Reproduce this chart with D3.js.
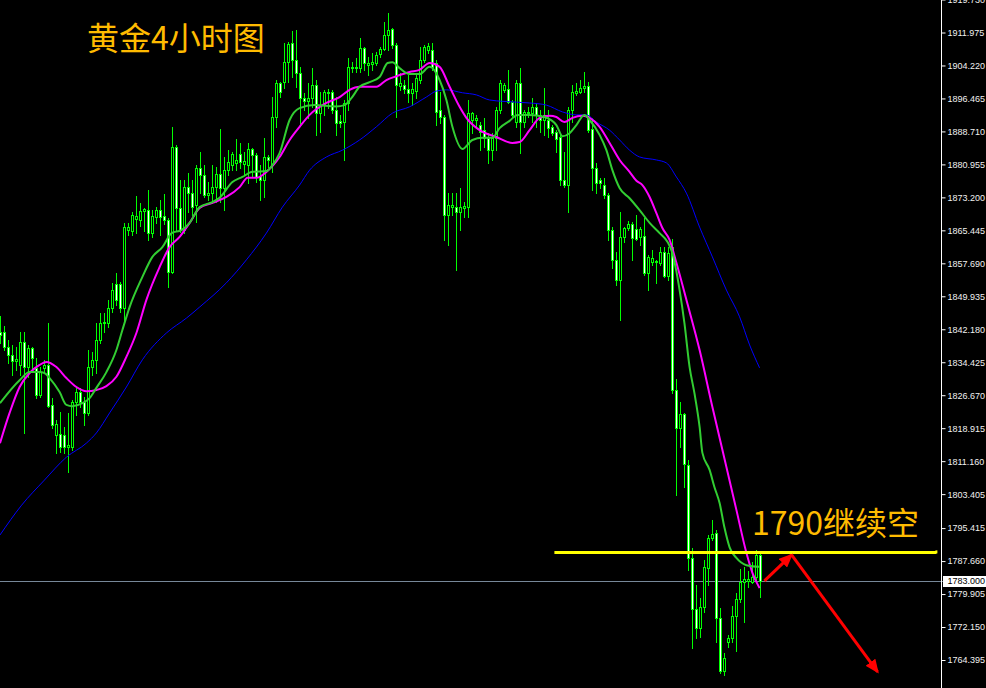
<!DOCTYPE html>
<html><head><meta charset="utf-8">
<script src="https://cdn.jsdelivr.net/npm/d3@7"></script>
<style>html,body{margin:0;padding:0;background:#000;overflow:hidden}</style>
</head><body>
<svg id="c" width="986" height="688"></svg>
<script>
// ---------- DATA ----------
const open=[
1841.5,1841.5,1838.0,1836.1,1834.7,1833.8,1839.2,1833.3,1837.8,1833.1,
1826.7,1833.1,1833.8,1824.4,1817.3,1817.5,1817.3,1814.5,1814.5,1825.1,
1827.4,1825.1,1822.5,1833.3,1835.0,1839.7,1843.7,1843.7,1847.2,1852.8,
1852.8,1847.2,1865.5,1865.3,1868.1,1867.9,1870.0,1870.2,1864.8,1868.6,
1870.2,1868.8,1867.9,1855.7,1885.1,1870.7,1865.5,1875.6,1874.2,1871.4,
1880.1,1878.5,1873.8,1874.2,1875.6,1878.7,1875.4,1879.6,1880.8,1881.3,
1883.4,1881.1,1880.8,1884.6,1883.2,1878.2,1877.3,1882.7,1880.8,1892.1,
1900.1,1900.3,1905.0,1909.5,1905.5,1902.5,1896.6,1895.9,1896.6,1899.6,
1893.0,1894.9,1897.8,1898.0,1893.8,1891.2,1890.9,1895.4,1903.6,1903.9,
1903.6,1908.3,1904.3,1904.6,1904.8,1906.9,1908.1,1911.4,1912.8,1909.0,
1899.4,1899.6,1898.7,1897.8,1898.2,1900.8,1905.5,1907.9,1907.9,1904.8,
1893.8,1892.1,1869.1,1870.9,1870.9,1869.8,1870.7,1870.9,1891.4,1891.4,
1890.2,1889.0,1887.2,1884.3,1887.2,1893.8,1898.5,1898.7,1895.6,1890.9,
1900.1,1890.9,1893.0,1893.0,1894.5,1892.6,1891.4,1891.4,1889.8,1888.6,
1887.4,1877.3,1876.1,1893.8,1897.8,1898.0,1898.9,1899.4,1889.3,1880.1,
1877.3,1876.1,1873.8,1865.5,1858.5,1853.8,1863.9,1866.0,1866.9,1865.8,
1863.9,1864.1,1855.4,1858.0,1858.0,1857.8,1860.4,1854.7,1861.5,1827.9,
1819.0,1822.3,1810.2,1788.4,1776.4,1771.9,1776.9,1786.0,1793.1,1794.3,
1774.3,1761.8,1768.6,1769.6,1774.7,1778.7,1782.7,1783.0,1782.7,1783.9,
1789.1];
const high=[
1845.3,1842.9,1839.7,1838.5,1838.0,1841.5,1841.5,1838.5,1838.0,1835.4,
1833.3,1835.0,1843.7,1826.0,1820.8,1822.7,1819.2,1822.5,1825.5,1828.4,
1828.4,1826.3,1837.3,1836.8,1843.7,1846.0,1846.0,1849.1,1853.1,1855.4,
1853.3,1867.2,1867.2,1869.8,1873.5,1871.9,1870.7,1874.9,1870.2,1870.9,
1872.6,1874.0,1868.4,1889.8,1885.5,1877.3,1877.3,1878.9,1877.3,1880.8,
1883.9,1880.8,1876.8,1880.8,1880.3,1889.3,1882.7,1884.3,1883.9,1886.9,
1886.0,1883.9,1886.0,1884.8,1883.6,1880.8,1887.2,1883.2,1896.8,1900.8,
1900.3,1909.5,1909.7,1912.3,1912.6,1903.9,1897.8,1900.1,1903.6,1900.8,
1898.0,1898.5,1898.7,1898.5,1896.8,1892.6,1896.1,1906.0,1905.0,1906.0,
1910.7,1908.6,1906.2,1907.2,1907.4,1908.6,1914.5,1916.6,1913.0,1909.5,
1902.5,1900.8,1902.0,1900.1,1902.5,1908.6,1909.0,1909.5,1909.5,1905.5,
1898.0,1892.6,1874.2,1874.2,1874.2,1875.4,1872.1,1896.1,1893.3,1892.6,
1890.9,1891.9,1888.3,1888.3,1894.5,1900.8,1900.1,1903.2,1896.1,1900.8,
1903.6,1893.8,1894.5,1896.6,1895.4,1893.8,1898.9,1893.8,1890.2,1889.0,
1887.9,1883.9,1894.5,1899.6,1900.1,1900.8,1902.7,1900.3,1891.9,1881.3,
1877.8,1877.8,1874.2,1866.2,1860.4,1869.8,1866.2,1867.6,1867.4,1869.1,
1866.2,1868.4,1859.6,1860.8,1858.5,1861.5,1861.5,1861.5,1863.4,1830.5,
1825.1,1822.5,1811.4,1790.7,1782.0,1779.0,1787.9,1793.8,1797.3,1795.0,
1776.6,1766.0,1770.3,1777.1,1780.2,1785.8,1786.3,1785.3,1787.4,1790.3,
1789.5];
const low=[
1839.0,1837.3,1834.2,1831.4,1832.6,1831.4,1817.8,1831.0,1832.6,1826.0,
1826.3,1831.9,1823.9,1819.0,1813.1,1813.3,1813.1,1808.6,1813.8,1822.0,
1823.9,1819.7,1822.0,1831.4,1831.9,1839.0,1841.5,1842.7,1846.2,1847.9,
1846.2,1843.9,1864.4,1864.4,1864.8,1866.5,1865.3,1863.2,1863.9,1867.2,
1864.4,1866.9,1852.1,1855.4,1865.5,1865.1,1864.8,1869.8,1869.1,1867.4,
1874.2,1873.3,1872.6,1871.9,1872.1,1872.1,1870.2,1878.5,1879.6,1879.6,
1880.1,1878.5,1876.6,1878.0,1876.8,1872.6,1873.3,1880.3,1879.2,1889.8,
1896.8,1898.9,1900.3,1901.5,1899.2,1890.7,1893.8,1891.9,1894.5,1887.9,
1888.6,1892.6,1894.2,1893.0,1887.9,1889.8,1882.0,1893.8,1902.7,1902.7,
1902.7,1903.2,1902.0,1903.2,1904.3,1906.2,1907.9,1907.9,1908.3,1892.1,
1898.5,1897.8,1895.6,1894.9,1896.6,1900.1,1905.0,1907.2,1903.2,1890.2,
1890.7,1863.2,1862.0,1869.1,1856.1,1865.5,1868.6,1868.6,1888.3,1889.8,
1884.3,1885.1,1881.3,1882.0,1884.3,1893.0,1898.0,1895.4,1892.1,1889.8,
1883.6,1889.8,1892.1,1890.9,1889.8,1888.6,1887.9,1887.4,1887.9,1883.9,
1876.1,1875.6,1869.8,1890.9,1897.3,1897.8,1898.0,1888.6,1874.9,1874.2,
1875.4,1873.1,1863.2,1856.6,1852.6,1844.4,1862.7,1865.5,1858.5,1863.2,
1862.0,1854.9,1851.4,1857.3,1853.1,1857.3,1854.5,1853.8,1827.2,1803.2,
1814.5,1805.1,1785.6,1767.2,1769.6,1769.8,1775.7,1782.0,1792.6,1768.6,
1761.3,1760.9,1767.5,1768.6,1766.5,1778.0,1773.3,1781.6,1782.5,1783.2,
1779.2];
const close=[
1840.8,1838.0,1836.1,1834.7,1835.2,1839.2,1833.3,1837.8,1835.4,1826.7,
1832.1,1833.8,1824.1,1819.7,1819.9,1814.5,1814.5,1815.0,1825.1,1827.4,
1825.1,1822.5,1833.3,1835.0,1839.7,1843.7,1843.9,1847.2,1851.4,1849.1,
1847.2,1866.2,1866.2,1869.1,1868.8,1870.0,1870.5,1864.8,1868.8,1870.2,
1868.6,1867.9,1855.7,1885.1,1870.7,1865.5,1875.6,1874.2,1870.9,1880.1,
1878.5,1873.8,1874.2,1875.6,1878.7,1875.4,1879.6,1881.5,1883.4,1882.0,
1881.5,1881.8,1884.6,1883.2,1878.0,1877.3,1882.7,1882.0,1892.1,1900.1,
1898.0,1905.0,1909.3,1905.5,1902.5,1896.6,1895.9,1896.6,1899.6,1893.0,
1894.9,1898.0,1898.0,1893.8,1890.7,1890.7,1895.4,1903.9,1903.9,1903.6,
1908.3,1904.8,1904.8,1905.0,1906.7,1908.1,1911.4,1912.6,1909.0,1899.6,
1900.1,1898.7,1897.8,1898.7,1901.3,1905.5,1908.6,1908.8,1903.9,1893.3,
1892.1,1869.1,1871.4,1871.4,1869.8,1870.9,1871.2,1893.0,1893.0,1891.9,
1888.6,1887.2,1884.3,1887.2,1893.8,1900.1,1899.6,1895.6,1892.6,1900.1,
1890.9,1893.3,1893.3,1894.5,1892.6,1891.4,1892.6,1889.5,1888.3,1886.9,
1877.3,1876.1,1893.8,1898.0,1898.2,1898.9,1899.4,1889.0,1880.1,1876.6,
1876.6,1873.8,1865.5,1858.5,1853.8,1863.9,1866.0,1866.9,1863.6,1863.4,
1865.8,1855.4,1859.2,1858.9,1858.2,1860.4,1854.7,1860.1,1827.9,1819.0,
1822.3,1810.5,1788.4,1776.4,1771.9,1776.9,1786.3,1793.1,1794.0,1774.3,
1761.8,1764.9,1769.6,1774.7,1778.7,1782.7,1783.4,1783.4,1783.9,1789.1,
1783.0];

// moving averages (bar index, price)
const greenIdx=[0,4.9,7.4,9.9,11.1,12.4,14.9,16.6,18.1,20.6,22.4,24.1,26.6,29.1,30.6,32.4,35.6,38.1,40.6,42.9,45.4,47.4,49.9,53.1,54.9,58.1,60.6,63.1,66.6,68.1,69.9,72.4,74.9,78.6,84.1,86.1,87.9,89.9,92.4,94.9,96.9,98.1,99.9,102.4,104.9,107.4,109.9,111.6,113.1,115.6,118.1,120.6,123.1,124.9,127.4,129.4,132.4,136.1,139.1,140.6,142.4,144.1,146.1,147.4,149.9,151.6,153.1,154.9,157.4,159.9,162.4,164.9,166.9,168.1,169.9,171.1,172.4,173.6,174.9,175.6,177.4,178.6,179.9,181.1,182.4,184.1,186.6,189.9];
const greenVal=[1824.8,1830.2,1832.1,1832.1,1831.9,1830.7,1827.4,1824.4,1824.1,1824.8,1826.0,1828.4,1832.1,1837.3,1842.0,1847.4,1854.5,1859.2,1861.5,1864.8,1865.5,1867.2,1870.9,1872.1,1873.1,1876.8,1878.0,1879.2,1879.4,1880.8,1883.6,1891.4,1894.2,1894.9,1894.6,1894.9,1896.6,1899.2,1900.3,1901.5,1904.8,1905.0,1903.6,1902.2,1902.2,1903.9,1900.8,1896.1,1889.8,1884.6,1886.7,1887.2,1887.2,1889.5,1891.2,1892.6,1892.6,1892.1,1890.2,1887.6,1888.3,1890.2,1892.6,1891.4,1887.9,1884.3,1879.6,1875.4,1873.0,1870.2,1867.2,1864.8,1862.7,1860.1,1851.4,1843.7,1833.3,1827.2,1819.2,1813.1,1809.1,1805.1,1801.3,1795.6,1790.9,1788.4,1786.7,1786.3];
const magIdx=[0,2.4,4.9,7.4,9.9,11.6,14.1,16.6,19.1,21.6,24.1,26.6,29.1,31.6,34.1,36.6,39.9,42.4,44.9,47.4,49.9,53.1,56.6,59.9,61.9,64.1,66.6,69.9,72.4,74.9,77.4,81.6,84.9,87.4,89.9,94.1,96.6,99.1,102.4,104.9,107.4,109.9,112.4,114.9,116.6,119.9,124.1,128.1,129.9,132.4,134.9,137.4,139.1,141.1,143.1,145.6,147.4,149.9,152.4,154.9,157.4,159.1,160.6,162.4,164.1,165.6,167.4,169.1,171.6,174.9,178.1,181.6,184.1,186.6,188.1,189.9];
const magVal=[1815.4,1822.5,1828.6,1831.9,1833.8,1834.5,1833.3,1830.7,1828.6,1827.6,1827.9,1828.8,1831.0,1835.7,1841.3,1849.1,1856.8,1861.5,1863.9,1867.2,1870.7,1871.9,1873.3,1875.6,1877.8,1877.8,1879.2,1882.7,1886.7,1889.8,1892.6,1895.4,1896.8,1898.5,1899.2,1899.2,1900.8,1901.7,1902.7,1903.2,1904.8,1903.9,1899.2,1894.5,1891.9,1889.0,1887.4,1886.0,1886.2,1889.0,1891.9,1892.4,1892.1,1890.9,1891.9,1892.4,1891.9,1889.8,1886.0,1882.0,1879.2,1877.1,1876.1,1873.3,1869.5,1866.0,1863.2,1857.8,1849.1,1837.3,1823.9,1809.8,1799.7,1789.6,1784.9,1781.3];
const blueIdx=[0,5.4,11.1,16.6,21.6,24.1,27.4,31.6,35.6,41.6,46.6,49.9,56.6,61.6,66.6,70.6,74.9,77.4,81.6,85.6,89.9,94.1,98.1,102.4,106.6,109.1,111.6,115.6,119.1,122.4,129.1,132.4,136.6,140.6,144.1,146.6,149.1,152.4,154.9,157.4,159.9,164.1,166.6,169.1,171.6,174.9,178.1,181.6,184.9,187.4,189.9];
const blueVal=[1793.8,1800.8,1806.7,1812.1,1815.4,1817.8,1822.5,1828.6,1835.0,1841.3,1844.8,1847.4,1853.1,1858.5,1864.8,1870.9,1876.1,1879.6,1882.7,1884.3,1886.7,1889.8,1893.0,1894.5,1896.8,1898.2,1898.5,1897.8,1897.3,1896.1,1895.6,1895.4,1894.9,1893.3,1892.6,1892.6,1890.9,1889.0,1886.7,1884.3,1882.7,1882.0,1881.3,1878.0,1874.2,1866.2,1859.2,1851.4,1845.1,1838.5,1833.1];

const priceTicks=[1919.730,1911.975,1904.220,1896.465,1888.710,1880.955,1873.200,1865.445,1857.690,1849.935,1842.180,1834.425,1826.670,1818.915,1811.160,1803.405,1795.415,1787.660,1779.905,1772.150,1764.395];
const lastPrice=1783.000;
const levelPrice=1789.7, levelFrom=138.6, levelTo=234.1;
const arrowIdx=[191.1,197.9,219.4];
const arrowPrice=[1783.0,1789.1,1761.6];
const titleText="黄金4小时图";
const noteText="1790继续空";

// ---------- DRAW ----------
const svg=d3.select("#c");
svg.append("rect").attr("width",986).attr("height",688).attr("fill","#000");
const x=d3.scaleLinear().domain([0,190]).range([0,760]);
const y=d3.scaleLinear().domain([1764.395,1911.975]).range([660,32.5]);

// bid line
svg.append("line").attr("x1",0).attr("x2",943)
  .attr("y1",Math.round(y(lastPrice))+0.5).attr("y2",Math.round(y(lastPrice))+0.5)
  .attr("stroke","#778899").attr("stroke-width",1);

// candles
const bars=open.map((o,i)=>({i,o,h:high[i],l:low[i],c:close[i]}));
const cg=svg.append("g").attr("shape-rendering","crispEdges");
bars.forEach(b=>{
  const cx=Math.round(x(b.i));
  const yh=Math.round(y(b.h)), yl=Math.round(y(b.l));
  cg.append("rect").attr("x",cx).attr("y",yh).attr("width",1).attr("height",Math.max(1,yl-yh+1)).attr("fill","#00ff00");
  const top=Math.round(y(Math.max(b.o,b.c))), bot=Math.round(y(Math.min(b.o,b.c)));
  const hh=Math.max(1,bot-top+1);
  cg.append("rect").attr("x",cx-1).attr("y",top).attr("width",3).attr("height",hh).attr("fill","#00ff00");
  if(hh>=3){
    cg.append("rect").attr("x",cx).attr("y",top+1).attr("width",1).attr("height",hh-2)
      .attr("fill",b.c>b.o?"#000":"#ffffff");
  }
});

// moving averages
function maLine(idx,val,color,w){
  const pts=idx.map((d,k)=>[x(d),y(val[k])]);
  svg.append("path").attr("d",d3.line().curve(d3.curveMonotoneX)(pts))
    .attr("fill","none").attr("stroke",color).attr("stroke-width",w);
}
maLine(blueIdx,blueVal,"#0000ff",1);
maLine(magIdx,magVal,"#ff00ff",2);
maLine(greenIdx,greenVal,"#32cd32",2);

// level line
svg.append("line").attr("x1",x(levelFrom)).attr("x2",x(levelTo))
  .attr("y1",y(levelPrice)).attr("y2",y(levelPrice))
  .attr("stroke","#ffff00").attr("stroke-width",3);
svg.append("rect").attr("x",x(levelTo)-1).attr("y",y(levelPrice)-2).attr("width",2).attr("height",3).attr("fill","#ffff00");

// arrows
const defs=svg.append("defs");
defs.append("marker").attr("id","ah").attr("markerUnits","userSpaceOnUse")
  .attr("viewBox","0 0 14 12").attr("refX",12).attr("refY",6)
  .attr("markerWidth",14).attr("markerHeight",12).attr("orient","auto")
  .append("path").attr("d","M0,0 L14,6 L0,12 Z").attr("fill","#ff0000");
for(let k=0;k<arrowIdx.length-1;k++){
  svg.append("line").attr("x1",x(arrowIdx[k])).attr("y1",y(arrowPrice[k]))
    .attr("x2",x(arrowIdx[k+1])).attr("y2",y(arrowPrice[k+1]))
    .attr("stroke","#ff0000").attr("stroke-width",3).attr("marker-end","url(#ah)");
}

// texts
svg.append("text").attr("x",87).attr("y",50).text(titleText)
  .attr("font-family","'Noto Sans CJK SC','Noto Sans',sans-serif").attr("font-size",32)
  .attr("fill","#ffbb00");
svg.append("text").attr("x",752).attr("y",535).text(noteText)
  .attr("font-family","'Noto Sans CJK SC','Noto Sans',sans-serif").attr("font-size",32)
  .attr("fill","#ffbb00");

// price axis
const ax=svg.append("g").attr("transform","translate(941.5,0)");
ax.append("line").attr("x1",0).attr("x2",0).attr("y1",0).attr("y2",688).attr("stroke","#ffffff").attr("stroke-width",1);
const axis=d3.axisRight(y).tickValues(priceTicks).tickSize(4).tickPadding(2).tickFormat(d3.format(".3f"));
const ag=ax.append("g").call(axis);
ag.select(".domain").remove();
ag.selectAll(".tick line").attr("stroke","#ffffff");
ag.selectAll(".tick text").attr("fill","#f0f0f0").attr("font-family","'Liberation Sans',Arial,sans-serif")
  .attr("font-size",9);

// last price box
const yl=Math.round(y(lastPrice));
svg.append("rect").attr("x",943).attr("y",yl-5).attr("width",43).attr("height",11).attr("fill","#ffffff");
svg.append("text").attr("x",947.5).attr("y",yl).attr("dy","0.34em").text(d3.format(".3f")(lastPrice))
  .attr("font-family","'Liberation Sans',Arial,sans-serif").attr("font-size",9).attr("fill","#000");
</script>
</body></html>
